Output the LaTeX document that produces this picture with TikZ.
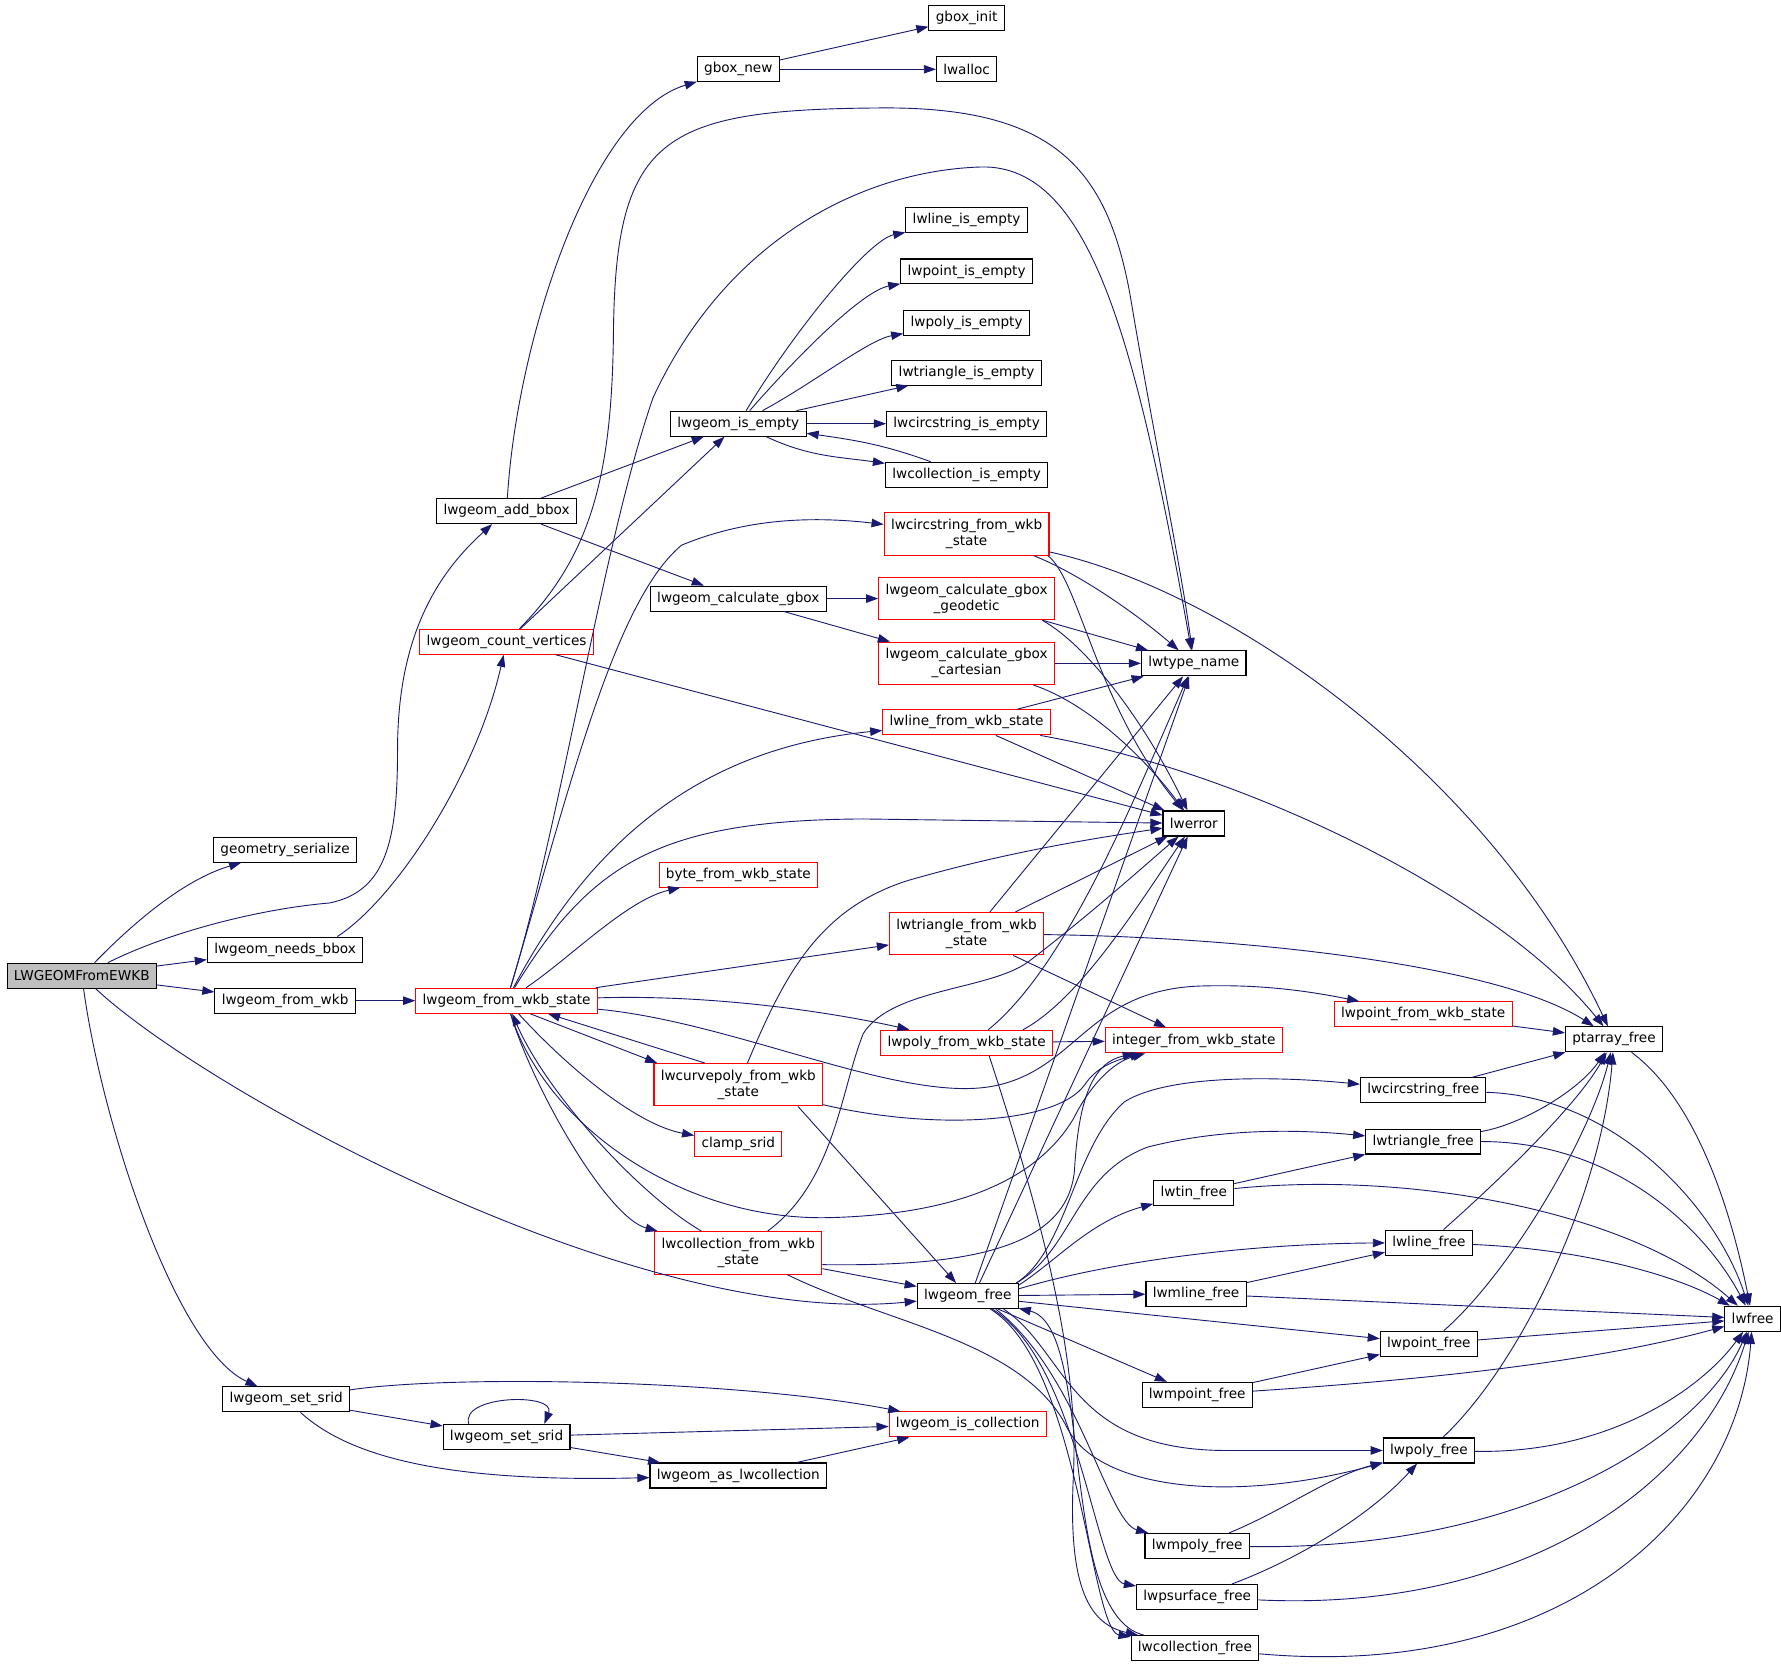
\documentclass[tikz,border=0pt]{standalone}
\usepackage{fontspec}
\setmainfont{DejaVu Sans}
\usetikzlibrary{arrows.meta}
\definecolor{edgeblue}{RGB}{25,25,112}
\definecolor{rootgrey}{RGB}{191,191,191}
\tikzset{
  fn/.style={draw=black, line width=0.7pt, inner xsep=4.5pt, inner ysep=2pt,
    minimum height=16.5pt, align=center, font=\fontsize{9}{10.5}\selectfont},
  fnred/.style={fn, draw=red},
  tall/.style={minimum height=28pt},
  call/.style={color=edgeblue, line width=0.6pt, -{Triangle[length=8pt,width=5.6pt]}}
}
\begin{document}
\begin{tikzpicture}[x=0.75pt,y=-0.75pt]
  \useasboundingbox (0,0) rectangle (1568,1471);
  \draw
    (72,859) node[fn, fill=rootgrey] (LWGEOMFromEWKB){LWGEOMFromEWKB}
    (251,748) node[fn] (geometryserialize){geometry\_serialize}
    (251,836) node[fn] (lwgeomneedsbbox){lwgeom\_needs\_bbox}
    (251,881) node[fn] (lwgeomfromwkb){lwgeom\_from\_wkb}
    (252,1232) node[fn] (lwgeomsetsrid){lwgeom\_set\_srid}
    (446,450) node[fn] (lwgeomaddbbox){lwgeom\_add\_bbox}
    (446,565) node[fnred] (lwgeomcountvertices){lwgeom\_count\_vertices}
    (446,881) node[fnred] (lwgeomfromwkbstate){lwgeom\_from\_wkb\_state}
    (446,1265) node[fn] (lwgeomsetsridb){lwgeom\_set\_srid}
    (650,61) node[fn] (gboxnew){gbox\_new}
    (650,373) node[fn] (lwgeomisempty){lwgeom\_is\_empty}
    (650,527) node[fn] (lwgeomcalculategbox){lwgeom\_calculate\_gbox}
    (650,770) node[fnred] (bytefromwkbstate){byte\_from\_wkb\_state}
    (650,955) node[fnred, tall] (lwcurvepolyfromwkbstate){lwcurvepoly\_from\_wkb\\\_state}
    (650,1007) node[fnred] (clampsrid){clamp\_srid}
    (650,1103) node[fnred, tall] (lwcollectionfromwkbstate){lwcollection\_from\_wkb\\\_state}
    (650,1299) node[fn] (lwgeomaslwcollection){lwgeom\_as\_lwcollection}
    (851,16) node[fn] (gboxinit){gbox\_init}
    (851,61) node[fn] (lwalloc){lwalloc}
    (851,194) node[fn] (lwlineisempty){lwline\_is\_empty}
    (851,239) node[fn] (lwpointisempty){lwpoint\_is\_empty}
    (851,284) node[fn] (lwpolyisempty){lwpoly\_is\_empty}
    (851,328) node[fn] (lwtriangleisempty){lwtriangle\_is\_empty}
    (851,373) node[fn] (lwcircstringisempty){lwcircstring\_is\_empty}
    (851,418) node[fn] (lwcollectionisempty){lwcollection\_is\_empty}
    (851,470) node[fnred, tall] (lwcircstringfromwkbstate){lwcircstring\_from\_wkb\\\_state}
    (851,527) node[fnred, tall] (lwgeomcalculategboxgeodetic){lwgeom\_calculate\_gbox\\\_geodetic}
    (851,584) node[fnred, tall] (lwgeomcalculategboxcartesian){lwgeom\_calculate\_gbox\\\_cartesian}
    (851,636) node[fnred] (lwlinefromwkbstate){lwline\_from\_wkb\_state}
    (851,822) node[fnred, tall] (lwtrianglefromwkbstate){lwtriangle\_from\_wkb\\\_state}
    (851,918) node[fnred] (lwpolyfromwkbstate){lwpoly\_from\_wkb\_state}
    (852,1141) node[fn] (lwgeomfree){lwgeom\_free}
    (852,1254) node[fnred] (lwgeomiscollection){lwgeom\_is\_collection}
    (1051,584) node[fn] (lwtypename){lwtype\_name}
    (1051,725) node[fn] (lwerror){lwerror}
    (1051,916) node[fnred] (integerfromwkbstate){integer\_from\_wkb\_state}
    (1051,1050) node[fn] (lwtinfree){lwtin\_free}
    (1053,1139) node[fn] (lwmlinefree){lwmline\_free}
    (1054,1228) node[fn] (lwmpointfree){lwmpoint\_free}
    (1054,1361) node[fn] (lwmpolyfree){lwmpoly\_free}
    (1054,1406) node[fn] (lwpsurfacefree){lwpsurface\_free}
    (1052,1451) node[fn] (lwcollectionfree){lwcollection\_free}
    (1253,893) node[fnred] (lwpointfromwkbstate){lwpoint\_from\_wkb\_state}
    (1253,960) node[fn] (lwcircstringfree){lwcircstring\_free}
    (1253,1005) node[fn] (lwtrianglefree){lwtriangle\_free}
    (1258,1094) node[fn] (lwlinefree){lwline\_free}
    (1258,1183) node[fn] (lwpointfree){lwpoint\_free}
    (1258,1277) node[fn] (lwpolyfree){lwpoly\_free}
    (1421,915) node[fn] (ptarrayfree){ptarray\_free}
    (1543,1161) node[fn] (lwfree){lwfree};
  \begin{scope}[call]
    % LWGEOMFromEWKB
    \draw (LWGEOMFromEWKB) .. controls (115,815) and (160,775) .. (geometryserialize);
    \draw (LWGEOMFromEWKB) .. controls (150,820) and (230,800) .. (290,795) .. controls (340,785) and (350,740) .. (350,660) .. controls (350,560) and (385,505) .. (lwgeomaddbbox);
    \draw (LWGEOMFromEWKB) to (lwgeomneedsbbox);
    \draw (LWGEOMFromEWKB) to (lwgeomfromwkb);
    \draw (LWGEOMFromEWKB) .. controls (180,960) and (560,1170) .. (lwgeomfree);
    \draw (LWGEOMFromEWKB) .. controls (90,990) and (155,1188) .. (lwgeomsetsrid);
    \draw (lwgeomneedsbbox.14) .. controls (350,790) and (420,680) .. (lwgeomcountvertices);
    \draw (lwgeomfromwkb) to (lwgeomfromwkbstate);
    % lwgeom_add_bbox, lwgeom_count_vertices
    \draw (lwgeomaddbbox) .. controls (455,300) and (520,100) .. (gboxnew);
    \draw (lwgeomaddbbox) to (lwgeomisempty);
    \draw (lwgeomaddbbox) to (lwgeomcalculategbox);
    \draw (lwgeomcountvertices) to (lwgeomisempty);
    \draw (lwgeomcountvertices) .. controls (520,490) and (538,420) .. (540,300) .. controls (541,120) and (580,96) .. (780,95) .. controls (930,95) and (975,150) .. (995,260) .. controls (1015,380) and (1040,500) .. (lwtypename);
    \draw (lwgeomcountvertices) to (lwerror);
    % lwgeom_from_wkb_state
    \draw (lwgeomfromwkbstate) .. controls (495,720) and (530,480) .. (575,350) .. controls (640,210) and (760,150) .. (864,147) .. controls (960,145) and (1000,300) .. (lwtypename);
    \draw (lwgeomfromwkbstate) .. controls (500,700) and (540,530) .. (600,480) .. controls (660,455) and (720,455) .. (lwcircstringfromwkbstate);
    \draw (lwgeomfromwkbstate) .. controls (510,760) and (600,660) .. (lwlinefromwkbstate);
    \draw (lwgeomfromwkbstate) .. controls (520,760) and (580,722) .. (760,721) -- (lwerror);
    \draw (lwgeomfromwkbstate) .. controls (500,845) and (552,792) .. (bytefromwkbstate);
    \draw (lwgeomfromwkbstate) to (lwtrianglefromwkbstate);
    \draw (lwgeomfromwkbstate) .. controls (640,875) and (750,895) .. (lwpolyfromwkbstate);
    \draw (lwgeomfromwkbstate) .. controls (650,900) and (800,975) .. (880,955) .. controls (950,938) and (960,870) .. (1060,868) .. controls (1100,867) and (1140,870) .. (lwpointfromwkbstate);
    \draw (lwgeomfromwkbstate.-29) to (lwcurvepolyfromwkbstate.165);
    \draw (lwgeomfromwkbstate) .. controls (500,940) and (560,990) .. (clampsrid);
    \draw (lwgeomfromwkbstate) .. controls (470,960) and (535,1072) .. (lwcollectionfromwkbstate);
    \draw (lwgeomfromwkbstate) .. controls (480,990) and (600,1075) .. (730,1072) .. controls (850,1069) and (915,1035) .. (945,985) .. controls (960,955) and (980,935) .. (integerfromwkbstate);
    % lwcurvepoly_from_wkb_state
    \draw (lwcurvepolyfromwkbstate.147) to (lwgeomfromwkbstate);
    \draw (lwcurvepolyfromwkbstate.-20) to (lwgeomfree);
    \draw (lwcurvepolyfromwkbstate) .. controls (690,860) and (720,800) .. (800,775) .. controls (880,752) and (950,740) .. (lwerror);
    \draw (lwcurvepolyfromwkbstate) .. controls (820,995) and (930,990) .. (955,955) .. controls (965,940) and (980,934) .. (integerfromwkbstate);
    % lwcollection_from_wkb_state
    \draw (lwcollectionfromwkbstate) .. controls (560,1050) and (480,960) .. (lwgeomfromwkbstate);
    \draw (lwcollectionfromwkbstate) to (lwgeomfree);
    \draw (lwcollectionfromwkbstate.-8) .. controls (850,1115) and (940,1100) .. (946,1030) .. controls (950,960) and (965,935) .. (integerfromwkbstate);
    \draw (lwcollectionfromwkbstate) .. controls (735,1040) and (740,960) .. (760,910) .. controls (785,870) and (870,872) .. (905,847) .. controls (960,805) and (1010,760) .. (lwerror);
    \draw (lwcollectionfromwkbstate.-24) .. controls (780,1165) and (900,1180) .. (939,1256) .. controls (965,1310) and (1080,1325) .. (lwpolyfree);
    % lwpoly_from_wkb_state, lwtriangle_from_wkb_state
    \draw (lwpolyfromwkbstate) to (integerfromwkbstate);
    \draw (lwpolyfromwkbstate.31) .. controls (940,850) and (1000,700) .. (lwtypename);
    \draw (lwpolyfromwkbstate.13) .. controls (950,880) and (1000,800) .. (lwerror);
    \draw (lwpolyfromwkbstate.-30) .. controls (920,1080) and (950,1200) .. (945,1300) .. controls (940,1400) and (960,1430) .. (lwcollectionfree);
    \draw (lwtrianglefromwkbstate.43) to (lwtypename);
    \draw (lwtrianglefromwkbstate.24) to (lwerror);
    \draw (lwtrianglefromwkbstate.-25) to (integerfromwkbstate);
    \draw (lwtrianglefromwkbstate) .. controls (1100,825) and (1320,850) .. (ptarrayfree);
    % gbox and is_empty
    \draw (gboxnew) to (gboxinit);
    \draw (gboxnew) to (lwalloc);
    \draw (lwgeomisempty) .. controls (700,290) and (765,211) .. (lwlineisempty);
    \draw (lwgeomisempty) .. controls (705,310) and (760,256) .. (lwpointisempty);
    \draw (lwgeomisempty) .. controls (715,338) and (765,299) .. (lwpolyisempty);
    \draw (lwgeomisempty) to (lwtriangleisempty);
    \draw (lwgeomisempty) to (lwcircstringisempty);
    \draw (lwgeomisempty) to[out=-25,in=172] (lwcollectionisempty);
    \draw (lwcollectionisempty) to[out=160,in=-8] (lwgeomisempty);
    \draw (lwgeomcalculategbox) to (lwgeomcalculategboxgeodetic);
    \draw (lwgeomcalculategbox) to (lwgeomcalculategboxcartesian);
    \draw (lwgeomcalculategboxgeodetic) to (lwtypename);
    \draw (lwgeomcalculategboxgeodetic.-16) .. controls (960,570) and (1010,640) .. (lwerror);
    \draw (lwgeomcalculategboxcartesian) to (lwtypename);
    \draw (lwgeomcalculategboxcartesian.-18) .. controls (960,620) and (1010,670) .. (lwerror);
    \draw (lwcircstringfromwkbstate.-18) .. controls (950,505) and (1000,540) .. (lwtypename);
    \draw (lwcircstringfromwkbstate.-15) .. controls (950,510) and (965,620) .. (lwerror);
    \draw (lwcircstringfromwkbstate) .. controls (1080,520) and (1310,680) .. (ptarrayfree);
    \draw (lwlinefromwkbstate) to (lwtypename);
    \draw (lwlinefromwkbstate) to (lwerror);
    \draw (lwlinefromwkbstate) .. controls (1100,680) and (1320,790) .. (ptarrayfree);
    \draw (lwpointfromwkbstate) to (ptarrayfree);
    % lwgeom_free
    \draw (lwgeomfree.60) to (lwtypename);
    \draw (lwgeomfree.48) to (lwerror);
    \draw (lwgeomfree.15) .. controls (940,1100) and (945,1010) .. (990,970) .. controls (1030,945) and (1130,948) .. (lwcircstringfree);
    \draw (lwgeomfree.15) .. controls (945,1100) and (945,1035) .. (1010,1010) .. controls (1080,992) and (1150,995) .. (lwtrianglefree);
    \draw (lwgeomfree.12) .. controls (930,1110) and (960,1075) .. (lwtinfree);
    \draw (lwgeomfree) to (lwmlinefree);
    \draw (lwgeomfree.8) .. controls (980,1110) and (1100,1095) .. (lwlinefree);
    \draw (lwgeomfree) to (lwpointfree);
    \draw (lwgeomfree) to (lwmpointfree);
    \draw (lwgeomfree.-20) .. controls (940,1190) and (940,1277) .. (1080,1277) -- (lwpolyfree);
    \draw (lwgeomfree.-25) .. controls (950,1210) and (975,1340) .. (lwmpolyfree);
    \draw (lwgeomfree.-28) .. controls (950,1200) and (965,1390) .. (lwpsurfacefree);
    \draw (lwgeomfree.-30) .. controls (950,1200) and (960,1435) .. (lwcollectionfree);
    \draw (lwcollectionfree) .. controls (930,1420) and (964,1168) .. (lwgeomfree);
    % free functions
    \draw (lwtinfree) to (lwtrianglefree);
    \draw (lwtinfree) .. controls (1250,1030) and (1440,1070) .. (lwfree);
    \draw (lwcircstringfree) to (ptarrayfree);
    \draw (lwcircstringfree) .. controls (1420,965) and (1510,1060) .. (lwfree);
    \draw (lwtrianglefree) .. controls (1340,990) and (1390,960) .. (ptarrayfree);
    \draw (lwtrianglefree) .. controls (1420,1005) and (1500,1080) .. (lwfree);
    \draw (lwlinefree) .. controls (1330,1030) and (1390,970) .. (ptarrayfree);
    \draw (lwlinefree) .. controls (1400,1100) and (1480,1125) .. (lwfree);
    \draw (lwmlinefree) to (lwlinefree);
    \draw (lwmlinefree) to (lwfree);
    \draw (lwpointfree) .. controls (1330,1120) and (1400,1000) .. (ptarrayfree);
    \draw (lwpointfree) to (lwfree);
    \draw (lwmpointfree) to (lwpointfree);
    \draw (lwmpointfree) .. controls (1250,1215) and (1400,1200) .. (lwfree);
    \draw (lwpolyfree) .. controls (1340,1200) and (1410,1050) .. (ptarrayfree);
    \draw (lwpolyfree) .. controls (1420,1280) and (1500,1220) .. (lwfree);
    \draw (lwmpolyfree) .. controls (1130,1330) and (1170,1300) .. (lwpolyfree);
    \draw (lwmpolyfree) .. controls (1350,1365) and (1500,1260) .. (lwfree);
    \draw (lwpsurfacefree) .. controls (1150,1370) and (1210,1330) .. (lwpolyfree);
    \draw (lwpsurfacefree) .. controls (1350,1420) and (1500,1300) .. (lwfree);
    \draw (lwcollectionfree) .. controls (1380,1480) and (1530,1330) .. (lwfree);
    \draw (ptarrayfree) .. controls (1495,970) and (1525,1070) .. (lwfree);
    % lwgeom_set_srid
    \draw (lwgeomsetsrid) .. controls (400,1210) and (650,1215) .. (lwgeomiscollection);
    \draw (lwgeomsetsrid) to (lwgeomsetsridb);
    \draw (lwgeomsetsrid) .. controls (310,1285) and (400,1305) .. (lwgeomaslwcollection);
    \draw (lwgeomsetsridb.161) .. controls (405,1228) and (490,1226) .. (lwgeomsetsridb.19);
    \draw (lwgeomsetsridb) to (lwgeomiscollection);
    \draw (lwgeomsetsridb) to (lwgeomaslwcollection);
    \draw (lwgeomaslwcollection) to (lwgeomiscollection);
  \end{scope}
\end{tikzpicture}
\end{document}
